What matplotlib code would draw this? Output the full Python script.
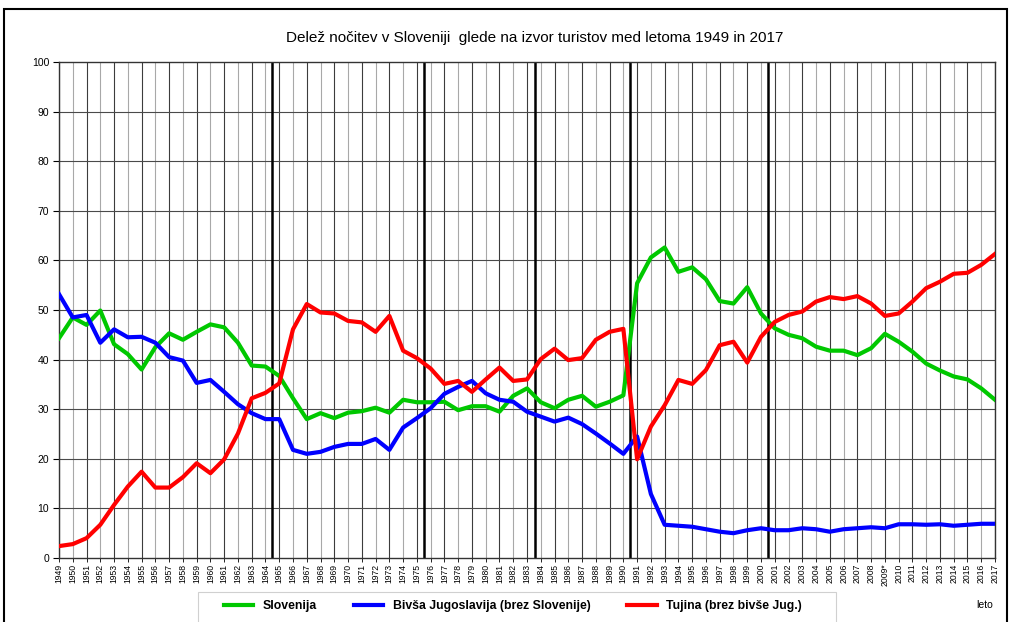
import matplotlib
matplotlib.use("Agg")
import matplotlib.pyplot as plt
from matplotlib.patches import Rectangle
from matplotlib.lines import Line2D

plt.rcParams['font.family'] = ['Liberation Sans', 'DejaVu Sans']

years = [str(y) for y in range(1949, 2018)]
years[years.index('2009')] = '2009*'

slovenija = [44.3, 48.5, 47.0, 49.9, 43.1, 41.1, 38.0, 42.5, 45.3, 44.0,
             45.6, 47.1, 46.5, 43.4, 38.8, 38.6, 36.7, 32.2, 28.0, 29.2,
             28.2, 29.3, 29.6, 30.3, 29.3, 31.9, 31.4, 31.4, 31.5, 29.8,
             30.6, 30.6, 29.5, 32.7, 34.2, 31.4, 30.2, 31.9, 32.7, 30.5,
             31.5, 32.8, 55.4, 60.6, 62.6, 57.7, 58.6, 56.2, 51.8, 51.3,
             54.6, 49.3, 46.3, 45.0, 44.3, 42.6, 41.8, 41.8, 40.9, 42.3,
             45.2, 43.6, 41.6, 39.2, 37.8, 36.6, 36.0, 34.2, 31.9]

bivsa_jug = [53.2, 48.5, 49.0, 43.4, 46.1, 44.5, 44.6, 43.4, 40.5, 39.8,
             35.3, 35.9, 33.5, 31.0, 29.2, 28.0, 28.0, 21.8, 21.0, 21.4,
             22.4, 23.0, 23.0, 24.0, 21.8, 26.3, 28.2, 30.2, 33.1, 34.5,
             35.7, 33.2, 31.9, 31.5, 29.5, 28.5, 27.5, 28.3, 27.0, 25.1,
             23.1, 21.0, 24.5, 12.9, 6.7, 6.5, 6.3, 5.8, 5.3, 5.0,
             5.6, 6.0, 5.6, 5.6, 6.0, 5.8, 5.3, 5.8, 6.0, 6.2,
             6.0, 6.8, 6.8, 6.7, 6.8, 6.5, 6.7, 6.9, 6.9]

tujina = [2.4, 2.8, 4.0, 6.7, 10.7, 14.4, 17.4, 14.2, 14.2, 16.3,
          19.1, 17.1, 19.9, 25.1, 32.2, 33.3, 35.2, 46.1, 51.2, 49.5,
          49.3, 47.8, 47.5, 45.6, 48.8, 41.8, 40.3, 38.2, 35.1, 35.7,
          33.5, 36.0, 38.4, 35.7, 36.0, 40.1, 42.2, 39.9, 40.3, 44.0,
          45.6, 46.2, 19.9, 26.5, 30.8, 35.9, 35.1, 37.9, 42.9, 43.6,
          39.4, 44.6, 47.6, 49.0, 49.7, 51.7, 52.6, 52.2, 52.8, 51.3,
          48.8, 49.3, 51.7, 54.4, 55.7, 57.3, 57.5, 59.1, 61.3]

series_names = ['Slovenija', 'Bivša Jugoslavija (brez Slovenije)', 'Tujina (brez bivše Jug.)']
series_colors = ['#00C800', '#0000FF', '#FF0000']
# period boundaries (in year-index units)
period_breaks = [15.5, 26.55, 34.6, 41.5, 51.5]

W, H = 1012, 622
fig = plt.figure(figsize=(W / 100, H / 100), dpi=100)
ax = fig.add_axes([59 / W, 1 - 558 / H, (995 - 59) / W, (558 - 62) / H])

x = list(range(len(years)))

# grid
for i in x:
    col = '#3c3c3c' if i % 2 == 0 else '#a8a8a8'
    ax.axvline(i, color=col, lw=0.8, zorder=1)
for v in range(10, 100, 10):
    ax.axhline(v, color='#4a4a4a', lw=0.8, zorder=1)
for b in period_breaks:
    ax.axvline(b, color='black', lw=1.8, zorder=2)

for vals, c in zip([slovenija, bivsa_jug, tujina], series_colors):
    ax.plot(x, vals, color=c, lw=3.0, zorder=3, solid_joinstyle='round')

ax.set_xlim(0, len(years) - 1)
ax.set_ylim(0, 100)
ax.set_yticks(range(0, 101, 10))
ax.set_yticklabels([str(v) for v in range(0, 101, 10)], fontsize=7.5)
ax.set_xticks(x)
ax.set_xticklabels(years, rotation=90, fontsize=6.2)
ax.tick_params(axis='y', length=4, width=0.8, pad=3)
ax.tick_params(axis='x', length=3, width=0.6, pad=1)
for s in ax.spines.values():
    s.set_color('#333333')
    s.set_linewidth(1.0)

fig.text(535 / W, 1 - 38 / H,
         'Delež nočitev v Sloveniji  glede na izvor turistov med letoma 1949 in 2017',
         ha='center', va='center', fontsize=11)

# legend
handles = [Line2D([0], [0], color=c, lw=3.0) for c in series_colors]
leg = fig.legend(handles, series_names, loc='center', bbox_to_anchor=(513 / W, 1 - 606 / H),
                 ncol=3, frameon=False, handlelength=2.4, columnspacing=3.0,
                 prop={'weight': 'bold', 'size': 8.8})
fig.add_artist(Rectangle((198 / W, -0.05), (836 - 198) / W, 0.05 + (622 - 592) / H,
                         transform=fig.transFigure, fill=False, edgecolor='#d0d0d0', lw=0.8))

fig.text(985 / W, 1 - 605 / H, 'leto', ha='center', va='center', fontsize=7.5)

# outer frame
fig.add_artist(Rectangle((4 / W, -0.05), (1007 - 4) / W, 0.05 + (622 - 9) / H,
                         transform=fig.transFigure, fill=False, edgecolor='black', lw=1.5))

fig.savefig('out.png', dpi=100)
